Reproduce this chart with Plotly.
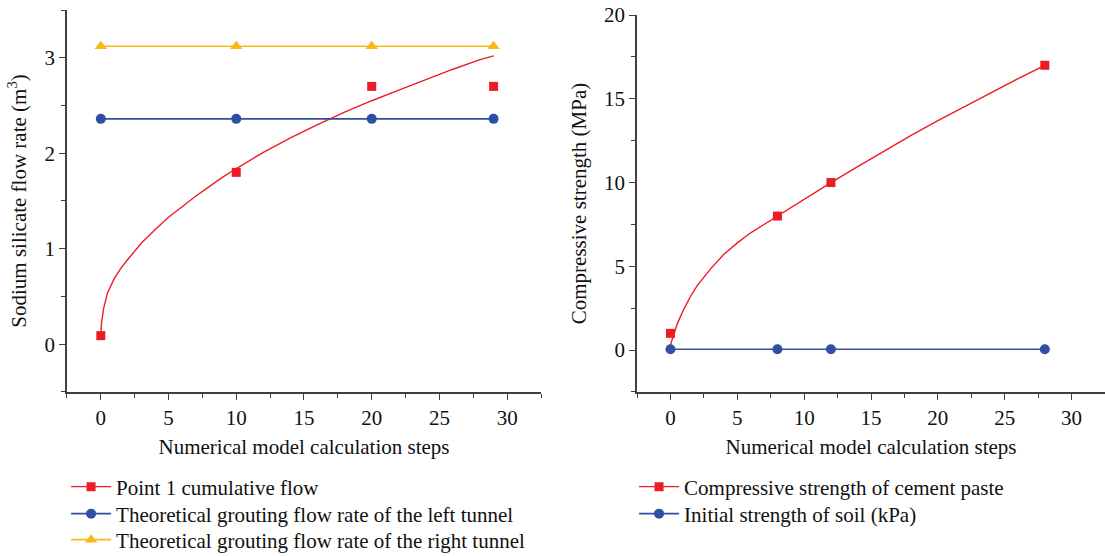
import plotly.graph_objects as go

# ---------- Left panel data ----------
flow_x = [0, 10, 20, 29]
flow_y = [0.09, 1.80, 2.70, 2.70]
flow_fit_x = [0, 0.05, 0.2, 0.5, 1, 1.5, 2, 3, 4, 5, 6, 7, 8, 9, 10, 12, 14, 16, 18, 20, 22, 24, 26, 28, 29]
flow_fit_y = [0.09, 0.22, 0.37, 0.54, 0.69, 0.80, 0.89, 1.06, 1.20, 1.33, 1.44, 1.55, 1.65, 1.75, 1.84,
              2.01, 2.16, 2.30, 2.43, 2.55, 2.66, 2.77, 2.88, 2.98, 3.02]
left_x = [0, 10, 20, 29]
left_y = [2.36, 2.36, 2.36, 2.36]
right_x = [0, 10, 20, 29]
right_y = [3.12, 3.12, 3.12, 3.12]

# ---------- Right panel data ----------
cem_x = [0, 8, 12, 28]
cem_y = [1.0, 8.0, 10.0, 17.0]
cem_fit_x = [0, 0.05, 0.2, 0.5, 1, 1.5, 2, 3, 4, 5, 6, 7, 8, 9, 10, 11, 12, 14, 16, 18, 20, 22, 24, 26, 28]
cem_fit_y = [0.1, 0.45, 0.8, 1.55, 2.45, 3.2, 3.85, 4.85, 5.72, 6.4, 7.0, 7.5, 8.0, 8.55, 9.05, 9.55, 10.0,
             10.95, 11.9, 12.82, 13.7, 14.55, 15.37, 16.2, 17.0]
soil_x = [0, 8, 12, 28]
soil_y = [0.05, 0.05, 0.05, 0.05]

RED = "#ED1C24"
BLUE = "#2E4FA3"
YEL = "#FBB917"
FONT = "Liberation Serif"
FS = 21

fig = go.Figure()

# left panel
fig.add_trace(go.Scatter(x=flow_fit_x, y=flow_fit_y, mode="lines", line=dict(color=RED, width=1.4),
                         showlegend=False, xaxis="x", yaxis="y"))
fig.add_trace(go.Scatter(x=flow_x, y=flow_y, mode="markers", marker=dict(symbol="square", size=9, color=RED),
                         showlegend=False, xaxis="x", yaxis="y"))
fig.add_trace(go.Scatter(x=[None], y=[None], mode="lines+markers", name="Point 1 cumulative flow",
                         line=dict(color=RED, width=1.4), marker=dict(symbol="square", size=9, color=RED),
                         legend="legend", xaxis="x", yaxis="y"))
fig.add_trace(go.Scatter(x=left_x, y=left_y, mode="lines+markers", name="Theoretical grouting flow rate of the left tunnel",
                         line=dict(color=BLUE, width=1.6), marker=dict(symbol="circle", size=10, color=BLUE),
                         legend="legend3", xaxis="x", yaxis="y"))
fig.add_trace(go.Scatter(x=right_x, y=right_y, mode="lines+markers", name="Theoretical grouting flow rate of the right tunnel",
                         line=dict(color=YEL, width=1.6), marker=dict(symbol="triangle-up", size=11, color=YEL),
                         legend="legend4", xaxis="x", yaxis="y"))

# right panel
fig.add_trace(go.Scatter(x=cem_fit_x, y=cem_fit_y, mode="lines", line=dict(color=RED, width=1.4),
                         showlegend=False, xaxis="x2", yaxis="y2"))
fig.add_trace(go.Scatter(x=soil_x, y=soil_y, mode="lines+markers", name="Initial strength of soil (kPa)",
                         line=dict(color=BLUE, width=1.6), marker=dict(symbol="circle", size=10, color=BLUE),
                         legend="legend5", xaxis="x2", yaxis="y2"))
fig.add_trace(go.Scatter(x=cem_x, y=cem_y, mode="markers", marker=dict(symbol="square", size=9, color=RED),
                         showlegend=False, xaxis="x2", yaxis="y2"))
fig.add_trace(go.Scatter(x=[None], y=[None], mode="lines+markers", name="Compressive strength of cement paste",
                         line=dict(color=RED, width=1.4), marker=dict(symbol="square", size=9, color=RED),
                         legend="legend2", xaxis="x2", yaxis="y2"))

axcommon = dict(showline=True, linecolor="#404040", linewidth=1.5, ticks="outside", ticklen=6,
                tickwidth=1.3, tickcolor="#404040", showgrid=False, zeroline=False, automargin=False,
                tickfont=dict(family=FONT, size=FS, color="#111"),
                minor=dict(ticks="outside", ticklen=4, tickwidth=1.1, tickcolor="#404040", showgrid=False))


def leg(xp, ypix):
    return dict(x=xp, y=1 - ypix / 556, xanchor="left", yanchor="middle", bgcolor="rgba(0,0,0,0)",
                font=dict(family=FONT, size=FS, color="#111"), itemwidth=40)


fig.update_layout(
    width=1105, height=556, margin=dict(l=0, r=0, t=0, b=0, autoexpand=False),
    plot_bgcolor="white", paper_bgcolor="white",
    font=dict(family=FONT, size=FS, color="#111"),
    xaxis=dict(domain=[0.0606, 0.4896], range=[-2.5, 32.5], tickvals=[0, 5, 10, 15, 20, 25, 30],
               minor_dtick=2.5, anchor="y",
               title=dict(text="Numerical model calculation steps", font=dict(family=FONT, size=FS), standoff=10),
               **axcommon),
    yaxis=dict(domain=[0.295, 0.982], range=[-0.5, 3.5], tickvals=[0, 1, 2, 3], minor_dtick=0.5,
               anchor="x",
               title=dict(text="Sodium silicate flow rate (m<sup>3</sup>)", font=dict(family=FONT, size=FS), standoff=12),
               **axcommon),
    xaxis2=dict(domain=[0.5765, 1.0], range=[-2.5, 32.5], tickvals=[0, 5, 10, 15, 20, 25, 30],
                minor_dtick=2.5, anchor="y2",
                title=dict(text="Numerical model calculation steps", font=dict(family=FONT, size=FS), standoff=10),
                **axcommon),
    yaxis2=dict(domain=[0.295, 0.973], range=[-2.5, 20], tickvals=[0, 5, 10, 15, 20], minor_dtick=2.5,
                anchor="x2",
                title=dict(text="Compressive strength (MPa)", font=dict(family=FONT, size=FS), standoff=12),
                **axcommon),
    legend=leg(0.0598, 487),
    legend3=leg(0.0598, 514),
    legend4=leg(0.0598, 540),
    legend2=leg(0.5738, 487),
    legend5=leg(0.5738, 514),
)

fig.write_html("out.html")
